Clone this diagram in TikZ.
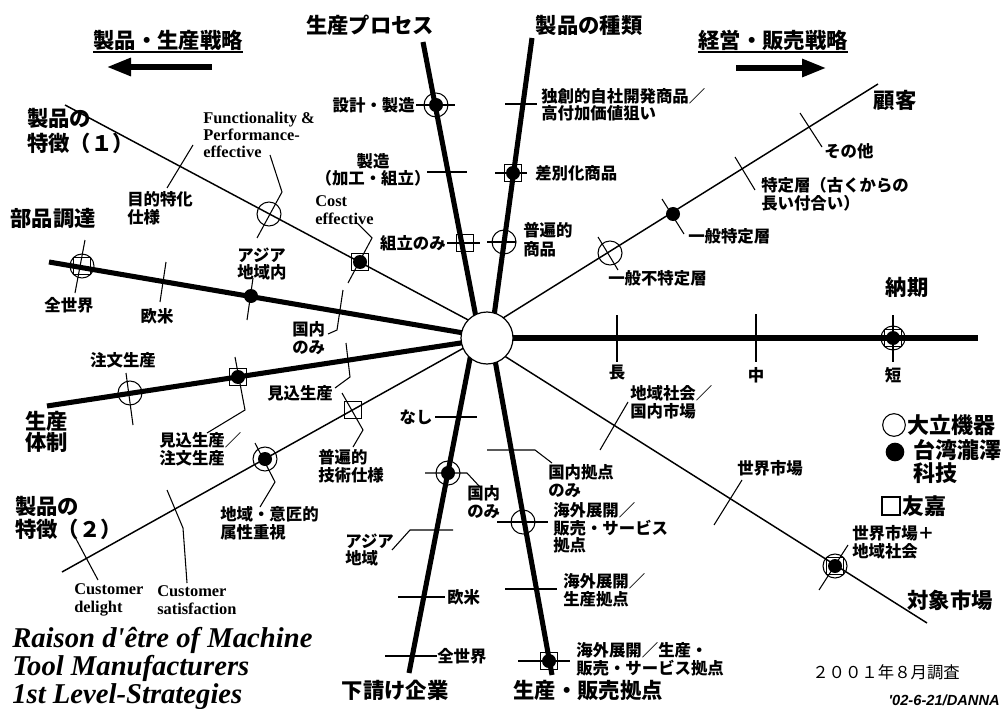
\documentclass[tikz,border=0pt]{standalone}
\usepackage{fontspec}
\setmainfont{Liberation Serif}
\newfontfamily\jp{Noto Sans CJK JP}
\newfontfamily\sansb{Liberation Sans}
\newfontfamily\ttl{Liberation Serif}
\usetikzlibrary{arrows.meta,calc}
\tikzset{
 thk/.style={line width=3.8pt},
 thn/.style={line width=1.1pt},
 tk/.style={line width=0.8pt},
 big/.style={font=\jp\bfseries\fontsize{16}{17.5}\selectfont, inner sep=0pt, align=left},
 sm/.style={font=\jp\bfseries\fontsize{12.3}{13.2}\selectfont, inner sep=0pt, align=left},
 en/.style={font=\bfseries\fontsize{12.3}{13}\selectfont, inner sep=0pt, align=left},
 om/.style={circle, draw, line width=0.8pt, minimum size=18pt, inner sep=0pt},
 dm/.style={circle, fill=black, minimum size=10.5pt, inner sep=0pt},
 sq/.style={rectangle, draw, line width=0.8pt, minimum size=12.75pt, inner sep=0pt},
 hdarrow/.style={line width=3.8pt, -{Triangle[length=18pt,width=13pt]}},
}
\begin{document}
\begin{tikzpicture}[x=0.75pt,y=-0.75pt]
\useasboundingbox (0,0) rectangle (1005,709);

% ---------- headers ----------
\node[big] (h1) at (168,40) {製品・生産戦略};
\draw[line width=1.3pt] (h1.west |- 0,52) -- (h1.east |- 0,52);
\coordinate (a1s) at (212,67); \coordinate (a1e) at (107,67);
\draw[hdarrow] (a1s) -- (a1e);
\node[big] (h2) at (773,40) {経営・販売戦略};
\draw[line width=1.3pt] (h2.west |- 0,52) -- (h2.east |- 0,52);
\coordinate (a2s) at (736,68); \coordinate (a2e) at (826,68);
\draw[hdarrow] (a2s) -- (a2e);

% ---------- spokes ----------
\coordinate (cA) at (480,338); \coordinate (eA) at (423,42);
\coordinate (cB) at (491,338); \coordinate (eB) at (532,38);
\coordinate (cC) at (487,328); \coordinate (eC) at (878,84);
\coordinate (cD) at (487,338); \coordinate (eD) at (978,338);
\coordinate (cE) at (487,345); \coordinate (eE) at (927,623);
\coordinate (cF) at (491,338); \coordinate (eF) at (552,675);
\coordinate (cG) at (474,338); \coordinate (eG) at (409,673);
\coordinate (cH) at (487,335); \coordinate (eH) at (62,572);
\coordinate (cI) at (487,339); \coordinate (eI) at (47,406);
\coordinate (cJ) at (487,337); \coordinate (eJ) at (49,262);
\coordinate (cK) at (487,330); \coordinate (eK) at (65,105);
\draw[thk] (cA) -- (eA);
\draw[thk] (cB) -- (eB);
\draw[thn] (cC) -- (eC);
\draw[thk] (cD) -- (eD);
\draw[thn] (cE) -- (eE);
\draw[thk] (cF) -- (eF);
\draw[thk] (cG) -- (eG);
\draw[thn] (cH) -- (eH);
\draw[thk] (cI) -- (eI);
\draw[thk] (cJ) -- (eJ);
\draw[thn] (cK) -- (eK);

% ---------- spoke titles ----------
\node[big] (lA) at (370,25) {生産プロセス};
\node[big] (lB) at (589,25) {製品の種類};
\node[big] (lC) at (895,100) {顧客};
\node[big] (lD) at (907,287) {納期};
\node[big] (lE) at (950,600) {対象市場};
\node[big] (lF) at (588,690) {生産・販売拠点};
\node[big] (lG) at (395,690) {下請け企業};
\node[big, anchor=west, font=\jp\bfseries\fontsize{16}{17.5}\selectfont] (lH) at (15,518) {製品の\\特徴（２）};
\node[big, anchor=west, font=\jp\bfseries\fontsize{16}{16}\selectfont] (lI) at (25,432) {生産\\体制};
\node[big] (lJ) at (53,218) {部品調達};
\node[big, anchor=west, font=\jp\bfseries\fontsize{16}{18.5}\selectfont] (lK) at (27,131) {製品の\\特徴（１）};

% ---------- ticks ----------
\draw[tk] (416,105) -- (455,105);
\draw[tk] (427,172) -- (467,172);
\draw[tk] (447,243) -- (480,243);
\draw[tk] (505,104) -- (537,104);
\draw[tk] (495,173) -- (527,173);
\draw[tk] (487,242) -- (516,242);
\draw[tk] (598,237) -- (618,270);
\draw[tk] (662,199) -- (684,234);
\draw[tk] (735,157) -- (755,190);
\draw[tk] (800,113) -- (822,147);
\draw[tk] (617,315) -- (617,362);
\draw[tk] (756,314) -- (756,362);
\draw[tk] (893,315) -- (893,362);
\draw[tk] (600,450) -- (628,402);
\draw[tk] (714,525) -- (742,480);
\draw[tk] (819,590) -- (848,545);
\draw[tk] (487,450) -- (535,450) -- (552,463);
\draw[tk] (497,522) -- (548,522);
\draw[tk] (505,589) -- (557,589);
\draw[tk] (518,661) -- (570,661);
\draw[tk] (435,417) -- (477,417);
\draw[tk] (425,473) -- (467,473) -- (480,487);
\draw[tk] (392,550) -- (410,530) -- (453,530);
\draw[tk] (398,597) -- (445,597);
\draw[tk] (385,656) -- (437,656);
\draw[tk] (342,393) -- (363,430) -- (353,447);
\draw[tk] (255,443) -- (275,482) -- (260,507);
\draw[tk] (167,490) -- (183,528) -- (187,583);
\draw[tk] (75,537) -- (98,580);
\draw[tk] (335,388) -- (350,377) -- (346,343);
\draw[tk] (235,357) -- (245,410) -- (207,433);
\draw[tk] (126,373) -- (133,425);
\draw[tk] (85,240) -- (75,293);
\draw[tk] (166,262) -- (160,302);
\draw[tk] (253,278) -- (247,320);
\draw[tk] (343,290) -- (337,330) -- (328,334);
\draw[tk] (193,145) -- (167,188);
\draw[tk] (270,155) -- (282,192) -- (257,238);
\draw[tk] (357,223) -- (372,238) -- (348,283);

% ---------- markers ----------
\node[om] (mA1o) at (436,105) {}; \node[dm] (mA1d) at (436,105) {};
\node[sq] (mA3s) at (465,243) {};
\node[sq] (mB2s) at (513,173) {}; \node[dm] (mB2d) at (513,173) {};
\node[om] (mB3o) at (504,242) {};
\node[om] (mC1o) at (610,253) {};
\node[dm] (mC2d) at (673,214) {};
\node[om] (mDo) at (893,338) {}; \node[sq] (mDs) at (893,338) {}; \node[dm] (mDd) at (893,338) {};
\node[om] (mEo) at (835,566) {}; \node[sq] (mEs) at (835,566) {}; \node[dm] (mEd) at (835,566) {};
\node[om] (mF2o) at (523,522) {};
\node[sq] (mF4s) at (549,661) {}; \node[dm] (mF4d) at (549,661) {};
\node[om] (mG2o) at (448,473) {}; \node[dm] (mG2d) at (448,473) {};
\node[sq] (mH1s) at (353,410) {};
\node[om] (mH2o) at (265,459) {}; \node[dm] (mH2d) at (265,459) {};
\node[sq] (mI2s) at (238,377) {}; \node[dm] (mI2d) at (238,377) {};
\node[om] (mI3o) at (130,393) {};
\node[om] (mJ1o) at (82,266) {}; \node[sq] (mJ1s) at (82,266) {};
\node[dm] (mJ3d) at (251,296) {};
\node[om] (mK2o) at (269,214) {};
\node[sq] (mK3s) at (360,262) {}; \node[dm] (mK3d) at (360,262) {};

% ---------- hub ----------
\node[circle, draw, fill=white, line width=0.9pt, minimum size=39pt, inner sep=0pt] (hub) at (487,338) {};

% ---------- item labels ----------
\node[sm, anchor=east] (tA1) at (415,105) {設計・製造};
\node[sm, align=center] (tA2) at (373,170) {製造\\（加工・組立）};
\node[sm, anchor=east] (tA3) at (446,243) {組立のみ};
\node[sm, anchor=west, font=\jp\bfseries\fontsize{12.3}{12.5}\selectfont] (tB1) at (541,105) {独創的自社開発商品／\\高付加価値狙い};
\node[sm, anchor=west] (tB2) at (535,173) {差別化商品};
\node[sm, anchor=west, font=\jp\bfseries\fontsize{12.3}{14}\selectfont] (tB3) at (523,240) {普遍的\\商品};
\node[sm, anchor=west] (tC1) at (608,278) {一般不特定層};
\node[sm, anchor=west] (tC2) at (688,236) {一般特定層};
\node[sm, anchor=west] (tC3) at (761,194) {特定層（古くからの\\長い付合い）};
\node[sm, anchor=west] (tC4) at (824,151) {その他};
\node[sm] (tD1) at (617,373) {長};
\node[sm] (tD2) at (756,375) {中};
\node[sm] (tD3) at (893,375) {短};
\node[sm, anchor=west] (tE1) at (630,402) {地域社会／\\国内市場};
\node[sm, anchor=west] (tE2) at (737,468) {世界市場};
\node[sm, anchor=west] (tE3) at (852,542) {世界市場＋\\地域社会};
\node[sm, anchor=west] (tF1) at (548,481) {国内拠点\\のみ};
\node[sm, anchor=west] (tF2) at (553,528) {海外展開／\\販売・サービス\\拠点};
\node[sm, anchor=west] (tF3) at (563,590) {海外展開／\\生産拠点};
\node[sm, anchor=west] (tF4) at (576,659) {海外展開／生産・\\販売・サービス拠点};
\node[sm] (tG1) at (416,417) {なし};
\node[sm, anchor=west] (tG2) at (467,502) {国内\\のみ};
\node[sm, anchor=west] (tG3) at (345,550) {アジア\\地域};
\node[sm, anchor=west] (tG4) at (447,597) {欧米};
\node[sm, anchor=west] (tG5) at (437,656) {全世界};
\node[sm, anchor=west] (tH1) at (318,466) {普遍的\\技術仕様};
\node[sm, anchor=west] (tH2) at (220,523) {地域・意匠的\\属性重視};
\node[en, anchor=west] (tH3) at (157,600) {Customer\\satisfaction};
\node[en, anchor=west] (tH4) at (74,600) {Customer\\delight};
\node[sm, anchor=west] (tI1) at (267,393) {見込生産};
\node[sm, anchor=west] (tI2) at (159,449) {見込生産／\\注文生産};
\node[sm] (tI3) at (123,360) {注文生産};
\node[sm] (tJ1) at (69,305) {全世界};
\node[sm] (tJ2) at (157,316) {欧米};
\node[sm, anchor=west] (tJ3) at (237,264) {アジア\\地域内};
\node[sm, anchor=west] (tJ4) at (292,338) {国内\\のみ};
\node[sm, anchor=west] (tK1) at (127,208) {目的特化\\仕様};
\node[en, anchor=west] (tK2) at (203,135) {Functionality \&\\Performance-\\effective};
\node[en, anchor=west] (tK3) at (315,210) {Cost\\effective};

% ---------- legend ----------
\node[om, minimum size=17pt] (lgo) at (894,425) {};
\node[big, anchor=west, font=\jp\bfseries\fontsize{16.5}{17.5}\selectfont] (lgot) at (907,425) {大立機器};
\node[dm, minimum size=14pt] (lgd) at (895,452) {};
\node[big, anchor=west, font=\jp\bfseries\fontsize{16.5}{17.3}\selectfont] (lgdt) at (913,462) {台湾瀧澤\\科技};
\node[sq, minimum size=13.5pt] (lgs) at (891,506) {};
\node[big, anchor=west, font=\jp\bfseries\fontsize{16.5}{17.5}\selectfont] (lgst) at (902,506) {友嘉};

% ---------- footer ----------
\node[sm, anchor=west, font=\jp\fontsize{12.3}{13.2}\selectfont] (date) at (812,672) {２００１年８月調査};
\node[anchor=east, font=\sansb\bfseries\itshape\fontsize{11}{11}\selectfont, inner sep=0pt] (sig) at (1000,700) {'02-6-21/DANNA};
\node[anchor=west, font=\ttl\bfseries\itshape\fontsize{21.5}{21}\selectfont, align=left, inner sep=0pt] (title) at (12,668) {Raison d'être of Machine\\Tool Manufacturers\\1st Level-Strategies};
\end{tikzpicture}
\end{document}
